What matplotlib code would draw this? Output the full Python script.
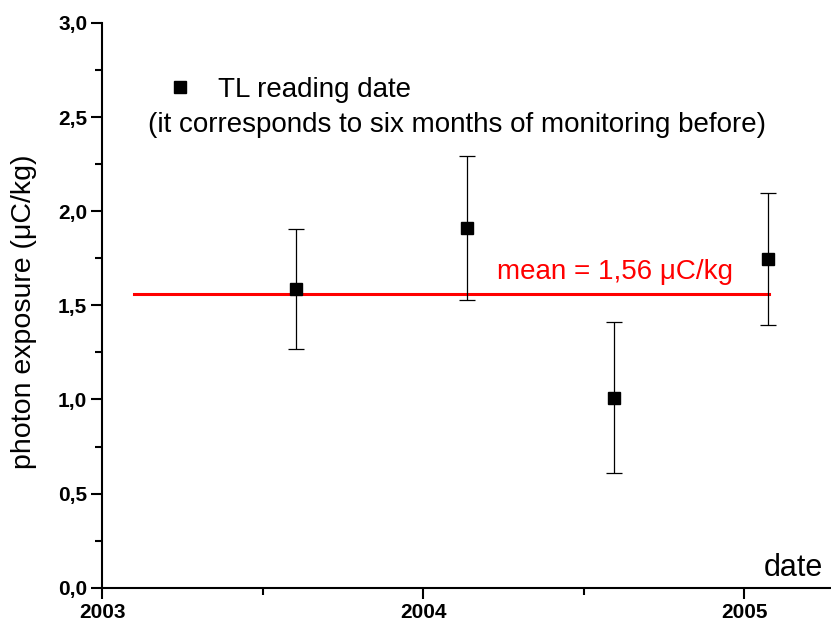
import matplotlib
matplotlib.use("Agg")
import matplotlib.pyplot as plt
from matplotlib.lines import Line2D
from matplotlib.ticker import MultipleLocator, FuncFormatter

plt.rcParams['font.family'] = ['Liberation Sans', 'DejaVu Sans']

# ===========================
# DATA
# ===========================
dates = [2003.604, 2004.136, 2004.594, 2005.075]
exposure = [1.587, 1.910, 1.010, 1.745]
errors = [0.317, 0.383, 0.400, 0.350]
mean_value = 1.56
mean_start = 2003.099
mean_end = 2005.077

# ===========================
# PLOT
# ===========================
fig = plt.figure(figsize=(8.31, 6.28), dpi=100)
ax = fig.add_axes([0.1233, 0.0642, 0.8767, 0.8992])

ax.errorbar(dates, exposure, yerr=errors, fmt='s', color='black',
            markersize=8, ecolor='black', elinewidth=0.9,
            capsize=6, capthick=0.9, zorder=3)

ax.plot([mean_start, mean_end], [mean_value, mean_value],
        color='red', linewidth=2.2, zorder=2)

ax.text(2004.229, 1.64, "mean = 1,56 \u03bcC/kg", color='red',
        fontsize=20, va='baseline', ha='left')

ax.set_xlim(2003, 2005.27)
ax.set_ylim(0, 3.0)

ax.xaxis.set_major_locator(MultipleLocator(1))
ax.xaxis.set_minor_locator(MultipleLocator(0.5))
ax.yaxis.set_major_locator(MultipleLocator(0.5))
ax.yaxis.set_minor_locator(MultipleLocator(0.25))

ax.xaxis.set_major_formatter(FuncFormatter(lambda v, p: f"{int(round(v))}"))
ax.yaxis.set_major_formatter(FuncFormatter(lambda v, p: f"{v:.1f}".replace('.', ',')))

for spine in ['top', 'right']:
    ax.spines[spine].set_visible(False)
for spine in ['left', 'bottom']:
    ax.spines[spine].set_linewidth(1.5)

ax.tick_params(which='major', direction='out', length=8, width=1.5,
               labelsize=15, pad=3)
ax.tick_params(which='minor', direction='out', length=5, width=1.5)
for lbl in ax.get_xticklabels() + ax.get_yticklabels():
    lbl.set_fontweight('bold')

ax.set_ylabel("photon exposure (\u03bcC/kg)", fontsize=20.5, va='center')
ax.yaxis.set_label_coords(-0.1078, 0.488)

ax.set_xlabel("date", fontsize=22, ha='right', va='baseline')
ax.xaxis.set_label_coords(0.989, 0.0207)

# legend
handle = Line2D([], [], marker='s', color='black', linestyle='none', markersize=8)
ax.legend([handle], ["TL reading date"], loc='center left',
          bbox_to_anchor=(166 / 831, 1 - 90 / 628), bbox_transform=fig.transFigure,
          frameon=False, fontsize=20, handlelength=1, handletextpad=0.87,
          borderpad=0, borderaxespad=0)
fig.text(457 / 831, 1 - 125 / 628,
         "(it corresponds to six months of monitoring before)",
         fontsize=20, ha='center', va='center')

fig.savefig("out.png", dpi=100)
